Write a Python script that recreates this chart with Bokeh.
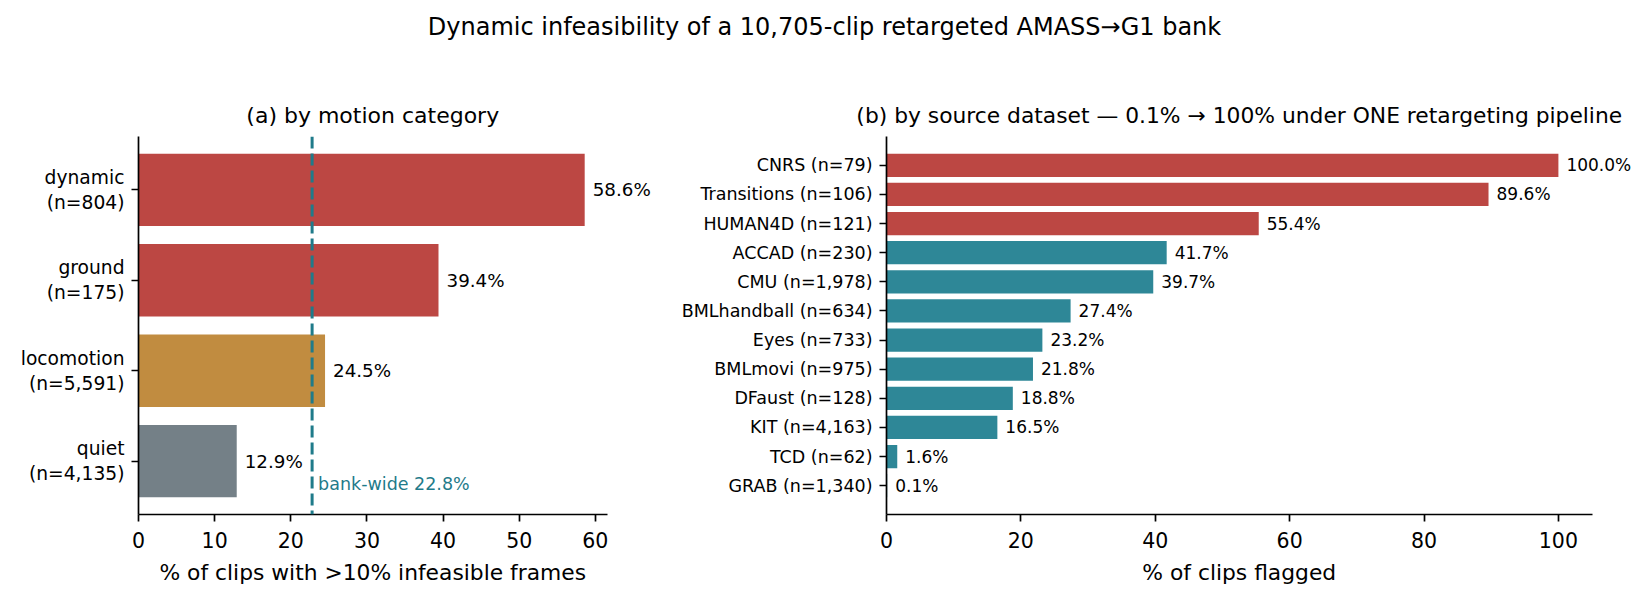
from bokeh.plotting import figure
from bokeh.models import Range1d, FixedTicker, Span, ColumnDataSource
from bokeh.layouts import column, row
from bokeh.core.properties import value
from bokeh.embed import file_html
from bokeh.resources import INLINE

# ---------------- data ----------------
suptitle = "Dynamic infeasibility of a 10,705-clip retargeted AMASS\u2192G1 bank"
title_a = "(a) by motion category"
title_b = "(b) by source dataset \u2014 0.1% \u2192 100% under ONE retargeting pipeline"
xlabel_a = "% of clips with >10% infeasible frames"
xlabel_b = "% of clips flagged"

cat_names = ["dynamic", "ground", "locomotion", "quiet"]
cat_n = [804, 175, 5591, 4135]
cat_pct = [58.6, 39.4, 24.5, 12.9]
bank_wide = 22.8

ds_names = ["CNRS", "Transitions", "HUMAN4D", "ACCAD", "CMU", "BMLhandball",
            "Eyes", "BMLmovi", "DFaust", "KIT", "TCD", "GRAB"]
ds_n = [79, 106, 121, 230, 1978, 634, 733, 975, 128, 4163, 62, 1340]
ds_pct = [100.0, 89.6, 55.4, 41.7, 39.7, 27.4, 23.2, 21.8, 18.8, 16.5, 1.6, 0.1]

xticks_a = list(range(0, 61, 10))
xticks_b = list(range(0, 101, 20))

# ---------------- style / layout ----------------
FONT = "DejaVu Sans"
RED = "#bc4743"
GOLD = "#c18c40"
GREY = "#748087"
TEAL = "#2e8797"
LINE_TEAL = "#1f7b8a"

W_TOTAL = 1640
H_TOP = 130          # strip holding the suptitle and the panel titles
ROW_END = 558        # where the strip holding the x-axis titles begins
H_ROW = ROW_END - H_TOP
H_BOT = 34
SPLIT = 672          # x where panel (b) figure starts
A_L, A_R = 138, 606.5    # axis spans of panel (a)
B_L, B_R = 886, 1591.5   # axis spans of panel (b)
F_TOP = 136
F_BOT = 514
XLABEL_Y = 571.7
BAR_H = 0.8


def style_axes(p, ytick_size):
    p.xgrid.visible = False
    p.ygrid.visible = False
    p.outline_line_color = None
    for ax in (p.xaxis, p.yaxis):
        ax.axis_line_color = "black"
        ax.axis_line_width = 1.7
        ax.major_tick_line_color = "black"
        ax.major_tick_line_width = 1.7
        ax.major_tick_out = 7
        ax.major_tick_in = 0
        ax.minor_tick_line_color = None
        ax.major_label_text_font = FONT
        ax.major_label_text_color = "black"
    p.yaxis.major_label_standoff = 7
    p.xaxis.major_label_standoff = 10
    p.xaxis.major_label_text_font_size = "20.5px"
    p.yaxis.major_label_text_font_size = ytick_size


def ypad(n):
    # half bar + 5% margin of the bar extent (matplotlib-style autoscale)
    return BAR_H / 2 + 0.05 * (n - 1 + BAR_H)


def strip(height):
    s = figure(width=W_TOTAL, height=height, toolbar_location=None, output_backend="svg",
               x_range=Range1d(0, W_TOTAL), y_range=Range1d(height, 0),
               x_axis_location=None, y_axis_location=None, min_border=0)
    s.outline_line_color = None
    s.xgrid.visible = False
    s.ygrid.visible = False
    return s


# ---------------- title strip ----------------
p0 = strip(H_TOP)
src_t = ColumnDataSource(dict(
    x=[824, (A_L + A_R) / 2, (B_L + B_R) / 2],
    y=[26.3, 115, 115],
    text=[suptitle, title_a, title_b],
    size=["24px", "22px", "21.8px"]))
p0.text(x="x", y="y", text="text", text_font_size="size", source=src_t,
        text_font=value(FONT), text_align="center", text_baseline="middle",
        text_color="black")

# ---------------- x-axis title strip ----------------
p3 = strip(H_BOT)
src_x = ColumnDataSource(dict(
    x=[(A_L + A_R) / 2, (B_L + B_R) / 2],
    y=[XLABEL_Y - ROW_END] * 2,
    text=[xlabel_a, xlabel_b]))
p3.text(x="x", y="y", text="text", source=src_x, text_font_size="21.8px",
        text_font=value(FONT), text_align="center", text_baseline="middle",
        text_color="black")

# ---------------- panel (a) ----------------
na = len(cat_names)
ya = list(range(na))
pa = ypad(na)
xlim_a = max(cat_pct) * 1.05
col_a = [RED if v > 30 else (GOLD if v > bank_wide else GREY) for v in cat_pct]
src_a = ColumnDataSource(dict(y=ya, pct=cat_pct, color=col_a,
                              label=[f"{v:.1f}%" for v in cat_pct]))

p1 = figure(width=SPLIT, height=H_ROW, toolbar_location=None, output_backend="svg",
            x_range=Range1d(0, xlim_a * (SPLIT - A_L) / (A_R - A_L)),
            y_range=Range1d(na - 1 + pa, -pa),
            min_border_left=int(A_L), min_border_right=0,
            min_border_top=int(F_TOP - H_TOP),
            min_border_bottom=int(ROW_END - F_BOT))
p1.hbar(y="y", left=0, right="pct", height=BAR_H, fill_color="color",
        line_color=None, source=src_a)
p1.text(x="pct", y="y", text="label", x_offset=8, text_align="left",
        text_baseline="middle", text_font=value(FONT), text_font_size="18.3px",
        text_color="black", source=src_a)
p1.add_layout(Span(location=bank_wide, dimension="height", line_color=LINE_TEAL,
                   line_width=3, line_dash="12 5"))
p1.text(x=[bank_wide], y=[na - 0.75], text=[f"bank-wide {bank_wide:.1f}%"],
        x_offset=6, text_align="left", text_baseline="middle",
        text_font=value(FONT), text_font_size="17.5px", text_color=LINE_TEAL)
style_axes(p1, "18.7px")
p1.xaxis.bounds = (0, xlim_a)
p1.xaxis.ticker = FixedTicker(ticks=xticks_a)
p1.yaxis.ticker = FixedTicker(ticks=ya)
p1.yaxis.major_label_overrides = {i: f"{nm}\n(n={n:,})"
                                  for i, (nm, n) in enumerate(zip(cat_names, cat_n))}

# ---------------- panel (b) ----------------
nb = len(ds_names)
yb = list(range(nb))
pb = ypad(nb)
xlim_b = 105
wb = W_TOTAL - SPLIT
col_b = [RED if v > 50 else TEAL for v in ds_pct]
src_b = ColumnDataSource(dict(y=yb, pct=ds_pct, color=col_b,
                              label=[f"{v:.1f}%" for v in ds_pct]))

p2 = figure(width=wb, height=H_ROW, toolbar_location=None, output_backend="svg",
            x_range=Range1d(0, xlim_b * (W_TOTAL - B_L) / (B_R - B_L)),
            y_range=Range1d(nb - 1 + pb, -pb),
            min_border_left=int(B_L - SPLIT), min_border_right=0,
            min_border_top=int(F_TOP - H_TOP),
            min_border_bottom=int(ROW_END - F_BOT))
p2.hbar(y="y", left=0, right="pct", height=BAR_H, fill_color="color",
        line_color=None, source=src_b)
p2.text(x="pct", y="y", text="label", x_offset=8, text_align="left",
        text_baseline="middle", text_font=value(FONT), text_font_size="17px",
        text_color="black", source=src_b)
style_axes(p2, "17.5px")
p2.xaxis.bounds = (0, xlim_b)
p2.xaxis.ticker = FixedTicker(ticks=xticks_b)
p2.yaxis.ticker = FixedTicker(ticks=yb)
p2.yaxis.major_label_overrides = {i: f"{nm} (n={n:,})"
                                  for i, (nm, n) in enumerate(zip(ds_names, ds_n))}

layout = column(p0, row(p1, p2), p3)
open("out.html", "w").write(file_html(layout, INLINE))
